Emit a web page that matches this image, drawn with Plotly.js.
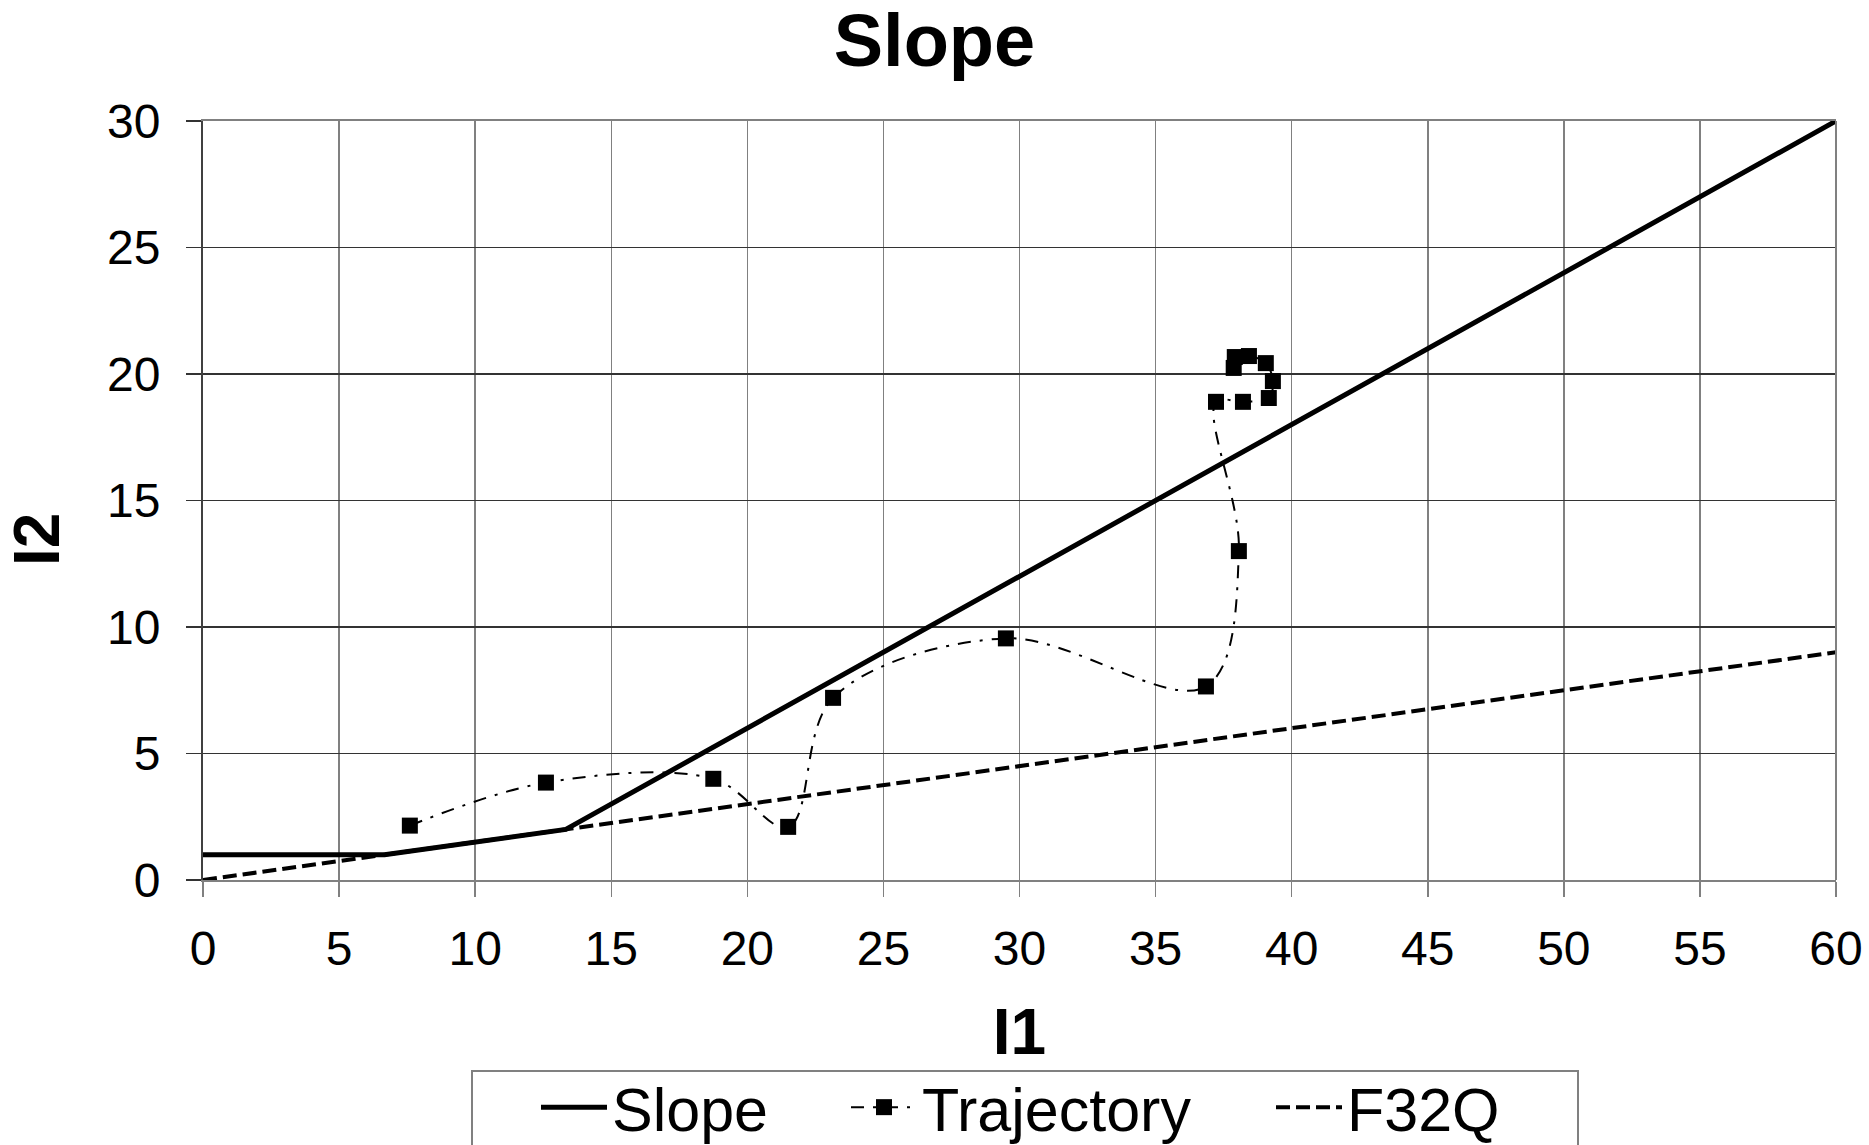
<!DOCTYPE html>
<html>
<head>
<meta charset="utf-8">
<script src="https://cdn.plot.ly/plotly-3.0.1.min.js"></script>
<style>html,body{margin:0;padding:0;background:#fff;}#chart{width:1869px;height:1145px;}</style>
</head>
<body>
<div id="chart"></div>
<script>
// ---- data ----
var slopeX = [0, 6.67, 13.33, 60];
var slopeY = [1, 1, 2, 30];

var trajectoryX = [7.6, 12.6, 18.75, 21.5, 23.15, 29.5, 36.85, 38.06, 37.22, 38.21, 39.16, 39.31, 39.05, 38.43, 37.91, 37.87];
var trajectoryY = [2.15, 3.85, 4.0, 2.1, 7.2, 9.55, 7.65, 13.0, 18.9, 18.9, 19.05, 19.72, 20.43, 20.71, 20.67, 20.24];

var f32qX = [0, 60];
var f32qY = [0, 9];

var xTicks = [0, 5, 10, 15, 20, 25, 30, 35, 40, 45, 50, 55, 60];
var yTicks = [0, 5, 10, 15, 20, 25, 30];

var seriesNames = ['Slope', 'Trajectory', 'F32Q'];
var chartTitle = 'Slope';
var xTitle = 'I1';
var yTitle = 'I2';

// ---- layout helpers ----
var FONT = '"Liberation Sans", Arial, sans-serif';
var L = 203, R = 1836, T = 121, B = 880, W = 1869, H = 1145;
function px2x(p) { return (p - L) / (R - L); }
function py2y(p) { return (B - p) / (B - T); }

var traces = [
  {
    x: slopeX, y: slopeY, name: seriesNames[0], type: 'scatter', mode: 'lines',
    line: { color: '#000', width: 5 },
    legend: 'legend'
  },
  {
    x: trajectoryX, y: trajectoryY, name: seriesNames[1], type: 'scatter', mode: 'lines+markers',
    line: { color: '#000', width: 2, dash: '13px,9px,3px,9px', shape: 'spline', smoothing: 1 },
    marker: { symbol: 'square', size: 16, color: '#000' },
    legend: 'legend2'
  },
  {
    x: f32qX, y: f32qY, name: seriesNames[2], type: 'scatter', mode: 'lines',
    line: { color: '#000', width: 4, dash: '14px,6px' },
    legend: 'legend3'
  }
];

var legendBase = {
  orientation: 'h', xanchor: 'left', yanchor: 'top',
  y: py2y(1061), bgcolor: 'rgba(0,0,0,0)', borderwidth: 0,
  font: { family: FONT, size: 61, color: '#000' }, itemwidth: 66
};

var layout = {
  width: W, height: H,
  paper_bgcolor: '#fff', plot_bgcolor: '#fff',
  margin: { l: L, r: W - R, t: T, b: H - B, pad: 0, autoexpand: false },
  font: { family: FONT, color: '#000' },
  title: {
    text: chartTitle, x: 0.5, xref: 'container', xanchor: 'center',
    y: 1 - 40 / H, yref: 'container', yanchor: 'middle',
    font: { family: FONT, size: 74, weight: 'bold', color: '#000' }
  },
  xaxis: {
    range: [0, 60], tickmode: 'array', tickvals: xTicks, ticktext: xTicks.map(String),
    showgrid: true, gridcolor: '#808080', gridwidth: 1.5,
    zeroline: false, showline: true, linecolor: '#808080', linewidth: 2, mirror: true,
    ticks: 'outside', ticklen: 15, tickwidth: 1.5, tickcolor: '#808080',
    ticklabelstandoff: 10,
    tickfont: { family: FONT, size: 48, color: '#000' },
    title: { text: xTitle, standoff: 36, font: { family: FONT, size: 64, weight: 'bold', color: '#000' } },
    fixedrange: true
  },
  yaxis: {
    range: [0, 30], tickmode: 'array', tickvals: yTicks, ticktext: yTicks.map(String),
    showgrid: true, gridcolor: '#333333', gridwidth: 1.3,
    zeroline: false, showline: true, linecolor: '#404040', linewidth: 2, mirror: false,
    ticks: 'outside', ticklen: 15, tickwidth: 1.5, tickcolor: '#333333',
    ticklabelstandoff: 16,
    tickfont: { family: FONT, size: 48, color: '#000' },
    fixedrange: true
  },
  annotations: [
    {
      text: yTitle, textangle: -90, showarrow: false,
      xref: 'paper', yref: 'paper', x: px2x(37), y: py2y(540),
      xanchor: 'center', yanchor: 'middle',
      font: { family: FONT, size: 64, weight: 'bold', color: '#000' }
    }
  ],
  showlegend: true,
  legend: Object.assign({}, legendBase, { x: px2x(536) }),
  legend2: Object.assign({}, legendBase, { x: px2x(846) }),
  legend3: Object.assign({}, legendBase, { x: px2x(1271) }),
  shapes: [
    {
      type: 'line', xref: 'paper', yref: 'paper', x0: 1, x1: 1, y0: 0, y1: 1,
      line: { color: '#808080', width: 2 }, layer: 'above'
    },
    {
      type: 'rect', xref: 'paper', yref: 'paper',
      x0: px2x(472), x1: px2x(1578), y0: py2y(1071), y1: py2y(1200),
      line: { color: '#808080', width: 2 }, fillcolor: 'rgba(0,0,0,0)', layer: 'below'
    }
  ]
};

Plotly.newPlot('chart', traces, layout, { staticPlot: true, displayModeBar: false });
</script>
</body>
</html>
